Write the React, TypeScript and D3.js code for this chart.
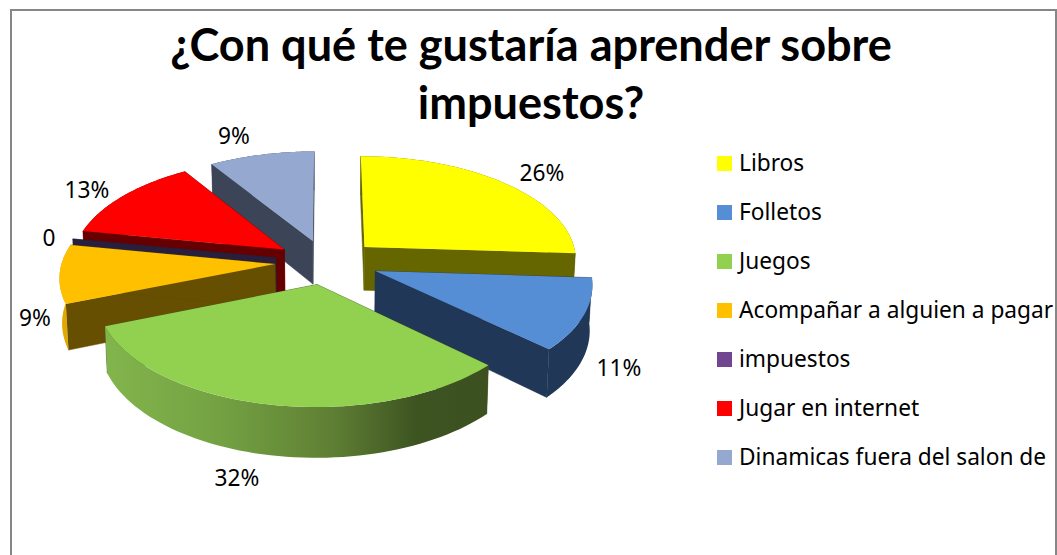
import React from "react";
import * as d3 from "d3";

const titleLines = ["¿Con qué te gustaría aprender sobre", "impuestos?"];
const categories = ["Libros", "Folletos", "Juegos", "Acompañar a alguien a pagar", "impuestos", "Jugar en internet", "Dinamicas fuera del salon de"];
const values = [26, 11, 32, 9, 0, 13, 9];
const dataLabels = ["26%", "11%", "32%", "9%", "0", "13%", "9%"];
const topColors = ["#FFFF00", "#558ED5", "#92D050", "#FFC000", "#71458F", "#FF0000", "#95A9D0"];
const wallColors = ["#666600", "#213757", "#3C5220", "#664F00", "#2A1E3D", "#660000", "#3B4557"];
const rimColors = ["#666600", "#213757", "url(#greenRim)", "#E0A800", "#2A1E3D", "#660000", "#3B4557"];
const labelPos: [number, number][] = [[542, 181], [619, 376], [237, 486], [35, 326], [49, 246], [87, 198], [234, 144]];
const drawOrder = [6, 5, 4, 3, 0, 1, 2];

const CX = 327, CY = 262, A = 213, B = 103.8, K = 0.11, EXPLODE_X = 0.245, EXPLODE_Y = 0.215, DEPTH = 44, LEAN = 0.99;
const TITLE_FONT = "Lato, 'Open Sans', sans-serif";
const FONT = "'Noto Sans', 'Open Sans', sans-serif";

type P = [number, number];
const slices = d3.pie<number>().sort(null).startAngle(0).endAngle(2 * Math.PI)(values);
const line = d3.line<P>();

function project(x: number, y: number, bottom: boolean): P {
  const s = 1 / (1 + K * y);
  const sx = A * x * s;
  const sy = CY - B * y * s;
  return bottom ? [CX + sx * LEAN, sy + DEPTH * s] : [CX + sx, sy];
}

export default function App() {
  return (
    <svg width={1057} height={555} style={{ position: "absolute", left: 0, top: 0, background: "#fff" }}>
      <defs>
        <linearGradient id="greenRim" gradientUnits="userSpaceOnUse" x1={105} x2={484} y1={0} y2={0}>
          <stop offset="0" stopColor="#82B54C" />
          <stop offset="0.3" stopColor="#74A243" />
          <stop offset="0.6" stopColor="#5F7F34" />
          <stop offset="0.82" stopColor="#3D5421" />
          <stop offset="1" stopColor="#3C5020" />
        </linearGradient>
      </defs>
      <rect x={11} y={10} width={1045} height={560} fill="#fff" stroke="#868686" strokeWidth={2} />
      {titleLines.map((t, i) => (
        <text key={t} x={531} y={61 + i * 58} textAnchor="middle" fontFamily={TITLE_FONT} fontWeight={700} fontSize={45.1} fill="#000">{t}</text>
      ))}
      {drawOrder.map((idx) => {
        const sl = slices[idx];
        const mid = (sl.startAngle + sl.endAngle) / 2;
        const ox = EXPLODE_X * Math.sin(mid);
        const oy = EXPLODE_Y * Math.cos(mid);
        const angles = d3.range(0, 61).map((k) => sl.startAngle + ((sl.endAngle - sl.startAngle) * k) / 60);
        const arcTop = angles.map((a) => project(ox + Math.sin(a), oy + Math.cos(a), false));
        const arcBot = angles.map((a) => project(ox + Math.sin(a), oy + Math.cos(a), true));
        const apexTop = project(ox, oy, false);
        const apexBot = project(ox, oy, true);
        const wall = (a: P, b: P) => line([apexTop, a, b, apexBot]) + "Z";
        const n = arcTop.length - 1;
        return (
          <g key={categories[idx]}>
            <path d={wall(arcTop[0], arcBot[0])} fill={wallColors[idx]} stroke={wallColors[idx]} strokeWidth={0.5} />
            <path d={wall(arcTop[n], arcBot[n])} fill={wallColors[idx]} stroke={wallColors[idx]} strokeWidth={0.5} />
            <path d={line([...arcTop, ...arcBot.slice().reverse()]) + "Z"} fill={rimColors[idx]} />
            <path d={line([apexTop, ...arcTop]) + "Z"} fill={topColors[idx]} />
          </g>
        );
      })}
      {dataLabels.map((t, i) => (
        <text key={i} x={labelPos[i][0]} y={labelPos[i][1]} textAnchor="middle" fontFamily={FONT} fontSize={22.7} fill="#000">{t}</text>
      ))}
      {categories.map((c, i) => (
        <g key={c}>
          <rect x={717} y={156 + i * 49} width={15} height={15} fill={topColors[i]} />
          <text x={739} y={171 + i * 49} fontFamily={FONT} fontSize={22.7} fill="#000">{c}</text>
        </g>
      ))}
    </svg>
  );
}
